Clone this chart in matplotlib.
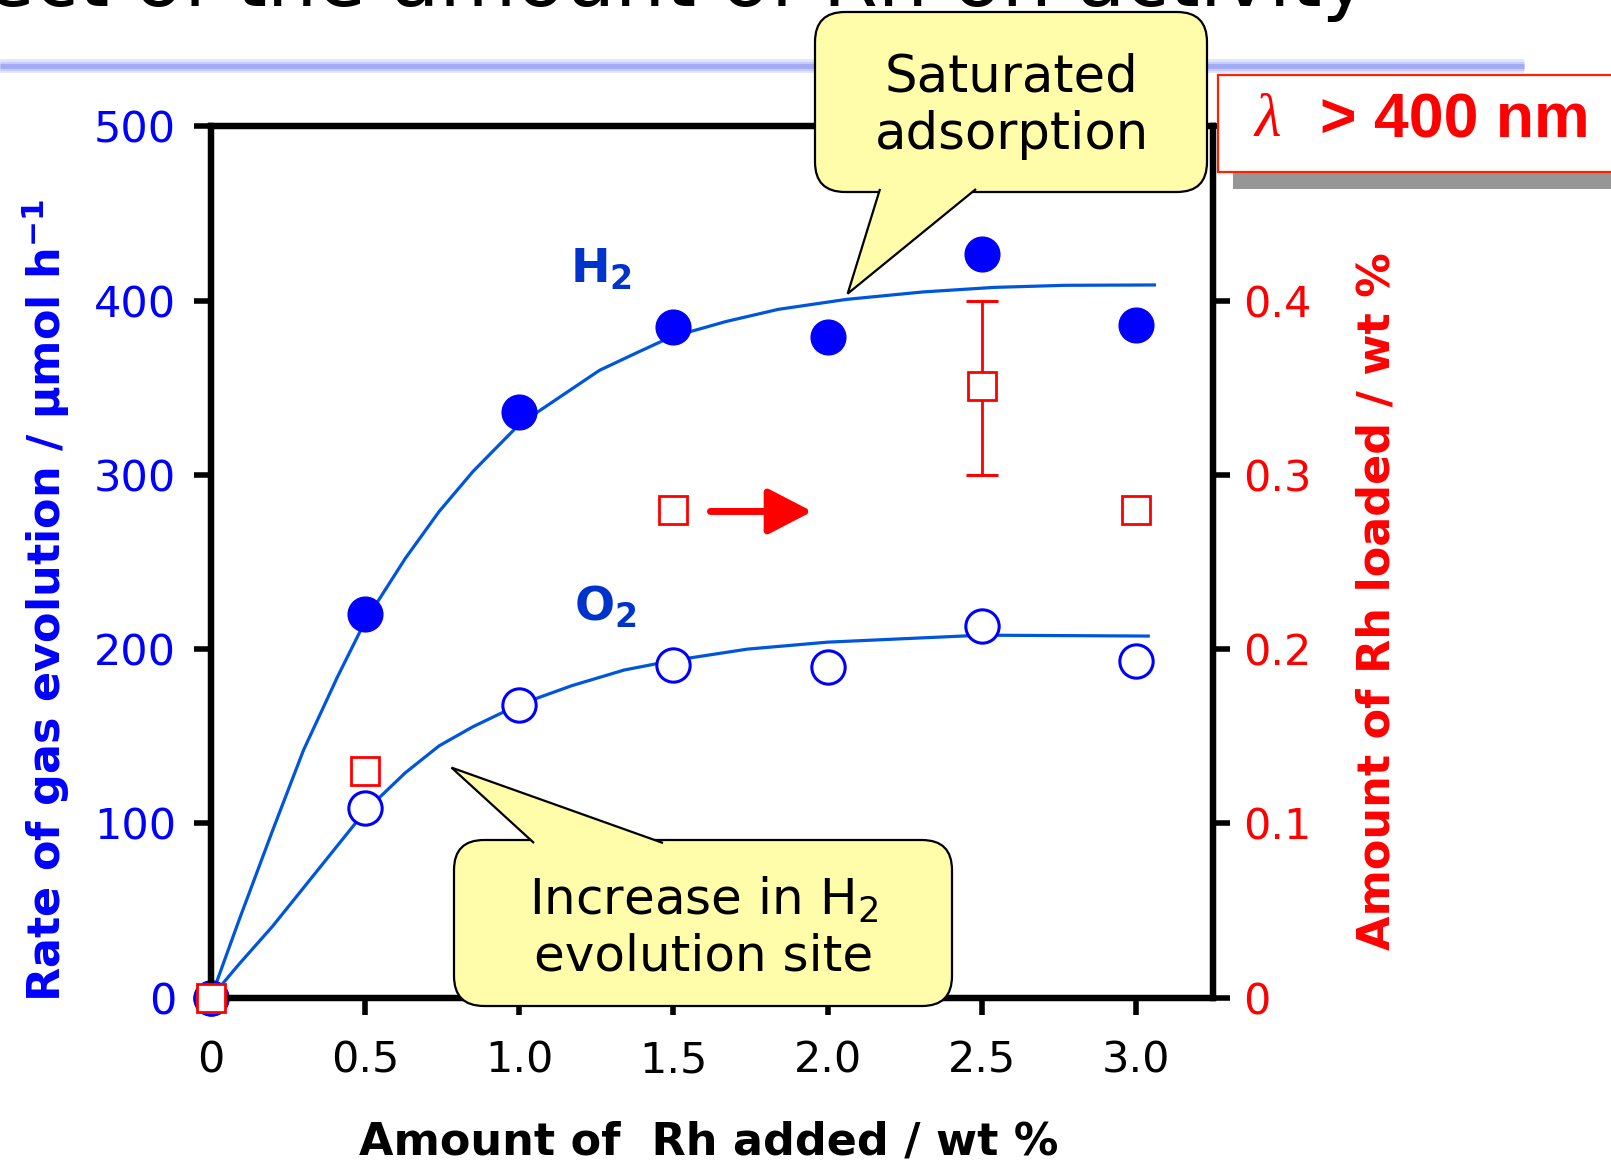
import matplotlib
matplotlib.use("Agg")
import matplotlib.pyplot as plt
from matplotlib.patches import FancyBboxPatch, Polygon, Rectangle
from matplotlib.lines import Line2D
from matplotlib.transforms import IdentityTransform

plt.rcParams["font.family"] = ["DejaVu Sans"]
plt.rcParams["mathtext.default"] = "regular"

# measured points
rh_added = [0, 0.5, 1.0, 1.5, 2.0, 2.5, 3.0]
h2_rate = [0, 220, 336, 385, 379, 427, 386]
o2_rate = [0, 109, 168, 191, 190, 213, 193]

# Rh actually loaded on the catalyst (right axis)
rh_loaded_x = [0, 0.5, 1.5, 2.5, 3.0]
rh_loaded = [0, 0.13, 0.28, 0.351, 0.28]
err_x = [2.5]
err_val = [0.351]
err_low = [0.30]
err_high = [0.40]

# fitted curves
h2_fit_x = [0, 0.09, 0.2, 0.3, 0.41, 0.5, 0.63, 0.74, 0.85, 1.0, 1.26, 1.38, 1.49,
            1.67, 1.84, 2.06, 2.31, 2.54, 2.77, 3.06]
h2_fit = [0, 44, 96, 142, 184, 216, 252, 279, 302, 329, 360, 370, 379,
          388, 395, 400.7, 405, 407.6, 408.8, 409]
o2_fit_x = [0, 0.09, 0.2, 0.3, 0.5, 0.63, 0.74, 0.85, 0.95, 1.06, 1.17, 1.34, 1.5,
            1.74, 2.0, 2.5, 3.04]
o2_fit = [0, 19, 41, 63, 107, 129, 144.5, 155.5, 164, 172, 179, 188, 193.5,
          200, 204, 208, 207.5]

x_ticks = [0, 0.5, 1.0, 1.5, 2.0, 2.5, 3.0]
x_ticklabels = ["0", "0.5", "1.0", "1.5", "2.0", "2.5", "3.0"]
left_ticks = [0, 100, 200, 300, 400, 500]
right_ticks = [0, 0.1, 0.2, 0.3, 0.4, 0.5]
right_ticklabels = ["0", "0.1", "0.2", "0.3", "0.4", ""]

BLUE = "#0000FF"
LINE_BLUE = "#0055DD"
LABEL_BLUE = "#0033CC"
RED = "#FF0000"
YELLOW = "#FFFCAA"

W, H = 1611, 1163
fig = plt.figure(figsize=(W / 100, H / 100), dpi=100)


def px(x, y):
    # pixel position measured from the top-left corner -> display coords
    return x, H - y


# title line at the top of the slide (mostly off the page)
fig.text(1368 / W, 1 - 6 / H, "Effect of the amount of Rh on activity",
         ha="right", va="baseline", fontsize=57, color="black")

# lavender rule under the title
for lw, col in [(10, "#E2E5FE"), (6.5, "#C6CCFB"), (3.5, "#A3AAF6")]:
    fig.add_artist(Line2D([0, 1524 / W], [1 - 66 / H] * 2, lw=lw, color=col,
                          solid_capstyle="butt", zorder=1))

ax = fig.add_axes([211 / W, 1 - 997.6 / H, 1002 / W, 871.2 / H])
ax2 = ax.twinx()

ax.set_xlim(0, 3.25)
ax.set_ylim(0, 500)
ax2.set_ylim(0, 0.5)

ax.plot(h2_fit_x, h2_fit, color=LINE_BLUE, lw=2.3, zorder=2, solid_joinstyle="round")
ax.plot(o2_fit_x, o2_fit, color=LINE_BLUE, lw=2.3, zorder=2, solid_joinstyle="round")
ax.plot(rh_added, h2_rate, "o", ms=25, color=BLUE, mec=BLUE, zorder=3, clip_on=False)
ax.plot(rh_added, o2_rate, "o", ms=24, mfc="white", mec=BLUE, mew=2.2, zorder=3, clip_on=False)

ax2.errorbar(err_x, err_val,
             yerr=[[v - lo for v, lo in zip(err_val, err_low)],
                   [hi - v for v, hi in zip(err_val, err_high)]],
             fmt="none", ecolor=RED, elinewidth=2, capsize=11.5, capthick=2.2, zorder=2)
ax2.plot(rh_loaded_x, rh_loaded, "s", ms=20, mfc="white", mec=RED, mew=2, zorder=4, clip_on=False)

# arrow pointing to the right-hand axis
ax2.annotate("", xy=(1.95, 0.279), xytext=(1.62, 0.279),
             arrowprops=dict(arrowstyle="-|>,head_length=1.35,head_width=0.7",
                             color=RED, lw=5, mutation_scale=20, shrinkA=0, shrinkB=0))

ax.text(1.265, 418, "H$_2$", color=LABEL_BLUE, fontsize=34, fontweight="bold",
        ha="center", va="center")
ax.text(1.28, 224, "O$_2$", color=LABEL_BLUE, fontsize=34, fontweight="bold",
        ha="center", va="center")

ax.set_xticks(x_ticks)
ax.set_xticklabels(x_ticklabels)
ax.set_yticks(left_ticks)
ax.set_yticklabels([str(t) for t in left_ticks])
ax2.set_yticks(right_ticks)
ax2.set_yticklabels(right_ticklabels)

ax.tick_params(axis="x", direction="out", length=12, width=4, pad=18,
               labelsize=31, labelcolor="black")
ax.tick_params(axis="y", direction="out", length=12, width=4, pad=13,
               labelsize=31, labelcolor=BLUE)
ax2.tick_params(axis="y", direction="out", length=12, width=4, pad=10,
                labelsize=31, labelcolor=RED)
for a in (ax, ax2):
    for s in a.spines.values():
        s.set_linewidth(4.5)

fig.text(46 / W, 0.484, "Rate of gas evolution / μmol h$^{-1}$", rotation=90,
         ha="center", va="center", fontsize=32, fontweight="bold", color=BLUE)
fig.text(1377 / W, 0.483, "Amount of Rh loaded / wt %", rotation=90,
         ha="center", va="center", fontsize=32, fontweight="bold", color=RED)
fig.text(709 / W, 1 - 1142 / H, "Amount of  Rh added / wt %",
         ha="center", va="center", fontsize=32, fontweight="bold", color="black")


def callout(box, base, tip_data, lines, text_center, fs):
    x0, y0, x1, y1 = box
    bx, by = px(x0, y1)
    patch = FancyBboxPatch((bx, by), x1 - x0, y1 - y0,
                           boxstyle="round,pad=0,rounding_size=30",
                           fc=YELLOW, ec="black", lw=1.6,
                           transform=IdentityTransform(), zorder=10)
    fig.add_artist(patch)
    tip = ax.transData.transform(tip_data)
    (ax_, ay_), (bx_, by_) = base
    p1 = px(ax_, ay_)
    p2 = px(bx_, by_)
    tail = Polygon([p1, tuple(tip), p2], closed=False, fc=YELLOW, ec="black",
                   lw=1.6, transform=IdentityTransform(), zorder=11)
    fig.add_artist(tail)
    tx, ty = px(*text_center)
    fig.text(tx / W, ty / H, lines, ha="center", va="center", fontsize=fs,
             color="black", linespacing=1.2, zorder=12)


callout((815, 12, 1207, 192), [(880, 189), (976, 189)], (2.065, 404),
        "Saturated\nadsorption", (1012, 106), 37)
callout((454, 840, 952, 1006), [(534, 843), (663, 843)], (0.78, 132),
        "Increase in H$_2$\nevolution site", (704, 928), 36)

# irradiation condition tag
sx, sy = px(1233, 189)
fig.add_artist(Rectangle((sx, sy), 420, 97, fc="#969696", ec="none",
                         transform=IdentityTransform(), zorder=13))
rx, ry = px(1218, 172)
fig.add_artist(Rectangle((rx, ry), 420, 97, fc="white", ec="#FF2200", lw=1.6,
                         transform=IdentityTransform(), zorder=14))
fig.text(1268 / W, 1 - 121 / H, "λ", ha="center", va="center", fontsize=44,
         style="italic", family="Liberation Serif", color=RED, zorder=15)
fig.text(1320 / W, 1 - 121 / H, "> 400 nm", ha="left", va="center", fontsize=45,
         fontweight="bold", family="Liberation Sans", color=RED, zorder=15)

fig.savefig("out.png", dpi=100)
